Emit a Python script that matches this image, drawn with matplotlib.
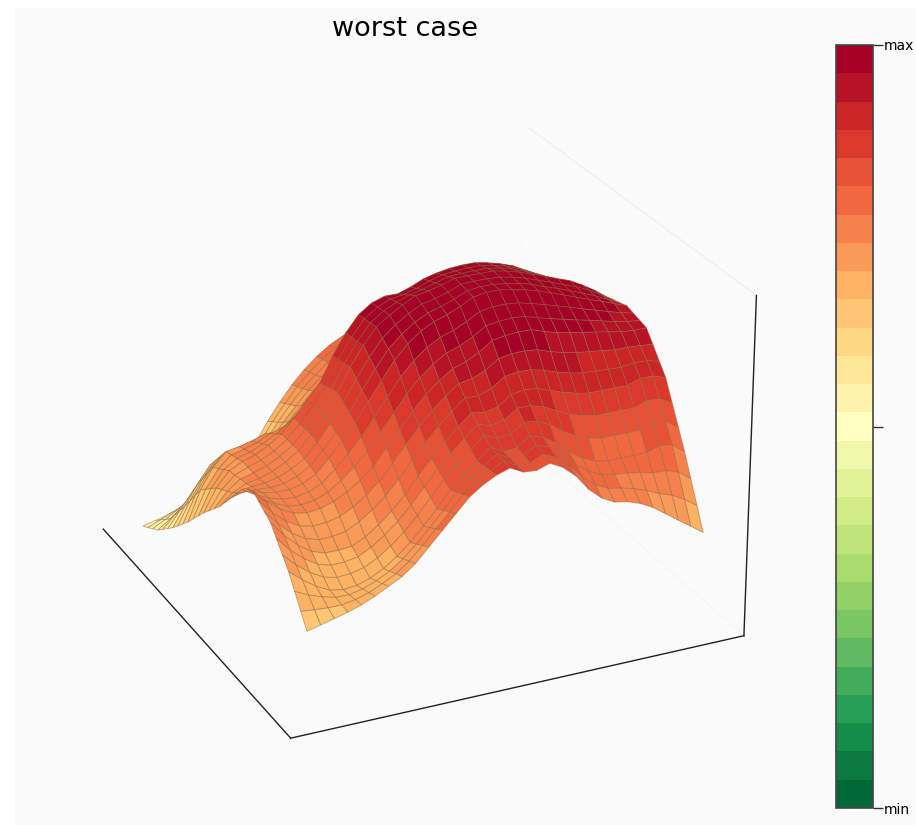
import numpy as np
import matplotlib
matplotlib.use("Agg")
import matplotlib.pyplot as plt
from matplotlib.patches import Rectangle
from matplotlib.colors import Normalize
from matplotlib.cm import ScalarMappable

title = "worst case"
cbar_labels = ["min", "", "max"]

# heights, one row per step along the short side
heights = [
    [.03,.04,.05,.06,.067,.077,.09,.117,.16,.22,.28,.333,.38,.42,.453,.48,.50,.517,.53,.537,.54,.54,.54,.537,.53,.517,.503,.49,.47,.45,.43],
    [.043,.059,.076,.093,.10,.109,.12,.147,.187,.24,.296,.345,.39,.428,.46,.487,.509,.528,.543,.55,.554,.557,.557,.554,.547,.536,.523,.51,.49,.47,.45],
    [.057,.078,.101,.127,.134,.141,.15,.177,.213,.26,.311,.358,.40,.435,.466,.493,.518,.539,.557,.564,.569,.573,.573,.57,.563,.554,.543,.53,.51,.49,.47],
    [.07,.097,.127,.16,.167,.173,.18,.207,.24,.28,.327,.37,.41,.443,.473,.50,.527,.55,.57,.577,.583,.59,.59,.587,.58,.573,.563,.55,.53,.51,.49],
    [.09,.128,.168,.207,.211,.215,.22,.24,.267,.30,.345,.387,.427,.462,.494,.523,.55,.573,.593,.602,.61,.617,.617,.612,.607,.598,.587,.573,.553,.532,.51],
    [.11,.159,.209,.253,.256,.258,.26,.274,.293,.32,.362,.403,.443,.481,.516,.547,.574,.597,.617,.628,.637,.643,.643,.638,.633,.622,.61,.597,.577,.554,.53],
    [.13,.19,.25,.30,.30,.30,.30,.307,.32,.34,.38,.42,.46,.50,.537,.57,.597,.62,.64,.653,.663,.67,.67,.663,.66,.647,.633,.62,.60,.577,.55],
    [.153,.223,.283,.33,.332,.336,.34,.345,.356,.373,.418,.462,.507,.547,.58,.607,.629,.656,.68,.691,.699,.703,.701,.693,.687,.674,.659,.643,.621,.597,.57],
    [.177,.257,.317,.36,.365,.371,.38,.382,.391,.407,.455,.505,.553,.593,.624,.643,.661,.691,.72,.729,.734,.737,.732,.723,.713,.70,.684,.667,.642,.617,.59],
    [.20,.29,.35,.39,.397,.407,.42,.42,.427,.44,.493,.547,.60,.64,.667,.68,.693,.727,.76,.767,.77,.77,.763,.753,.74,.727,.71,.69,.663,.637,.61],
    [.227,.309,.363,.397,.406,.419,.437,.45,.47,.493,.553,.609,.66,.696,.718,.727,.74,.768,.793,.80,.803,.803,.796,.786,.773,.758,.739,.717,.69,.664,.637],
    [.253,.328,.377,.403,.414,.431,.453,.48,.513,.547,.613,.671,.72,.751,.769,.773,.787,.809,.827,.833,.837,.837,.83,.82,.807,.789,.768,.743,.717,.69,.663],
    [.28,.347,.39,.41,.423,.443,.47,.51,.557,.60,.673,.733,.78,.807,.82,.82,.833,.85,.86,.867,.87,.87,.863,.853,.84,.82,.797,.77,.743,.717,.69],
    [.303,.359,.394,.41,.423,.443,.47,.51,.558,.607,.678,.736,.783,.81,.827,.833,.844,.859,.87,.874,.877,.877,.87,.86,.847,.829,.809,.787,.762,.737,.71],
    [.327,.371,.399,.41,.423,.443,.47,.51,.559,.613,.682,.739,.787,.814,.833,.847,.856,.868,.88,.882,.883,.883,.877,.867,.853,.838,.821,.803,.781,.757,.73],
    [.35,.383,.403,.41,.423,.443,.47,.51,.56,.62,.687,.743,.79,.817,.84,.86,.867,.877,.89,.89,.89,.89,.883,.873,.86,.847,.833,.82,.80,.777,.75],
    [.38,.402,.411,.413,.422,.439,.463,.503,.551,.607,.669,.724,.773,.805,.83,.85,.859,.871,.887,.889,.889,.887,.88,.87,.857,.844,.83,.817,.80,.779,.757],
    [.41,.421,.419,.417,.421,.434,.457,.497,.542,.593,.651,.706,.757,.792,.82,.84,.851,.866,.883,.888,.888,.883,.877,.867,.853,.841,.827,.813,.798,.781,.763],
    [.44,.44,.427,.42,.42,.43,.45,.49,.533,.58,.633,.687,.74,.78,.81,.83,.843,.86,.88,.887,.887,.88,.873,.863,.85,.837,.823,.81,.797,.783,.77],
    [.47,.447,.428,.417,.414,.422,.44,.473,.511,.553,.604,.656,.707,.747,.778,.80,.813,.831,.853,.86,.861,.857,.848,.838,.827,.816,.804,.793,.782,.772,.763],
    [.49,.453,.429,.413,.409,.415,.43,.457,.489,.527,.576,.624,.673,.713,.745,.77,.783,.802,.827,.833,.836,.833,.822,.812,.803,.794,.786,.777,.768,.761,.757],
    [.50,.46,.43,.41,.403,.407,.42,.44,.467,.50,.547,.593,.64,.68,.713,.74,.753,.773,.80,.807,.81,.81,.797,.787,.78,.773,.767,.76,.753,.75,.75],
    [.487,.444,.412,.39,.381,.384,.393,.413,.44,.473,.518,.564,.61,.65,.684,.713,.72,.736,.763,.77,.771,.767,.754,.744,.737,.732,.728,.723,.723,.721,.717],
    [.473,.429,.394,.37,.359,.36,.367,.387,.414,.447,.489,.536,.58,.62,.656,.687,.686,.70,.727,.733,.732,.723,.71,.70,.693,.691,.689,.687,.693,.692,.683],
    [.46,.413,.377,.35,.337,.337,.34,.36,.387,.42,.46,.507,.55,.59,.627,.66,.653,.663,.69,.697,.693,.68,.667,.657,.65,.65,.65,.65,.663,.663,.65],
    [.43,.388,.355,.33,.319,.32,.327,.347,.374,.407,.447,.492,.537,.574,.61,.643,.632,.64,.667,.667,.656,.637,.619,.607,.60,.60,.60,.60,.613,.611,.593],
    [.40,.362,.332,.31,.301,.304,.313,.333,.36,.393,.433,.478,.523,.559,.594,.627,.611,.616,.643,.637,.62,.593,.571,.557,.55,.55,.55,.55,.563,.559,.537],
    [.37,.337,.31,.29,.283,.287,.30,.32,.347,.38,.42,.463,.51,.543,.577,.61,.59,.593,.62,.607,.583,.55,.523,.507,.50,.50,.50,.50,.513,.507,.48],
    [.33,.311,.297,.287,.286,.295,.31,.33,.358,.393,.433,.475,.52,.551,.58,.607,.587,.588,.61,.595,.568,.53,.501,.484,.477,.472,.466,.457,.456,.444,.417],
    [.29,.286,.283,.283,.29,.302,.32,.34,.369,.407,.447,.488,.53,.559,.583,.603,.583,.582,.60,.582,.552,.51,.479,.46,.453,.444,.43,.413,.40,.38,.353],
    [.25,.26,.27,.28,.293,.31,.33,.35,.38,.42,.46,.50,.54,.567,.587,.60,.58,.577,.59,.57,.537,.49,.457,.437,.43,.417,.397,.37,.343,.317,.29],
]

W, H = 916, 825
fig = plt.figure(figsize=(W / 100, H / 100), dpi=100, facecolor="white")
fig.add_artist(Rectangle((15 / W, 0), 1 - 15 / W, 1 - 8 / H, transform=fig.transFigure,
                         facecolor="#fafafa", edgecolor="none", zorder=-5))

cmap = plt.get_cmap("RdYlGn_r", 27)
norm = Normalize(-0.84, 0.84)

# 3d axes, centre of the box sits around pixel (405, 428)
ax = fig.add_axes([(405 - 395) / W, 1 - (428 + 395) / H, 790 / W, 790 / H], projection="3d")
ax.patch.set_alpha(0)
ax.view_init(elev=25, azim=-25)
ax.set_box_aspect(None, zoom=0.965)

Z = np.array(heights)
X, Y = np.meshgrid(np.linspace(0, 1, Z.shape[0]), np.linspace(0, 1, Z.shape[1]), indexing="ij")
ax.plot_surface(X, Y, Z, cmap=cmap, norm=norm, rstride=1, cstride=1,
                shade=False, edgecolor=(0.55, 0.42, 0.25, 0.55), linewidth=0.6, antialiased=True)

ax.set_xlim(-0.075, 1.075)
ax.set_ylim(-0.075, 1.075)
ax.set_zlim(0, 1)
ax.set_xticks([])
ax.set_yticks([])
ax.set_zticks([])
ax.grid(False)
for axis in [ax.xaxis, ax.yaxis, ax.zaxis]:
    axis.pane.set_fill(False)
    axis.pane.set_edgecolor((1, 1, 1, 0))
    axis.line.set_color("#222222")
    axis.line.set_linewidth(1.0)
ax.yaxis.pane.set_edgecolor("#e6e6e6")

fig.text(405 / W, 1 - 29 / H, title, fontsize=19.5, ha="center", va="center", color="black")

cax = fig.add_axes([836 / W, 1 - 808 / H, 37 / W, 763 / H])
cb = fig.colorbar(ScalarMappable(norm=norm, cmap=cmap), cax=cax, ticks=[-0.84, 0, 0.84])
cb.ax.set_yticklabels(cbar_labels, fontsize=10)
cb.ax.tick_params(length=7, width=1, color="#333333", pad=1)
cb.outline.set_edgecolor("#444444")
cb.outline.set_linewidth(1.2)

fig.savefig("out.png", dpi=100)
